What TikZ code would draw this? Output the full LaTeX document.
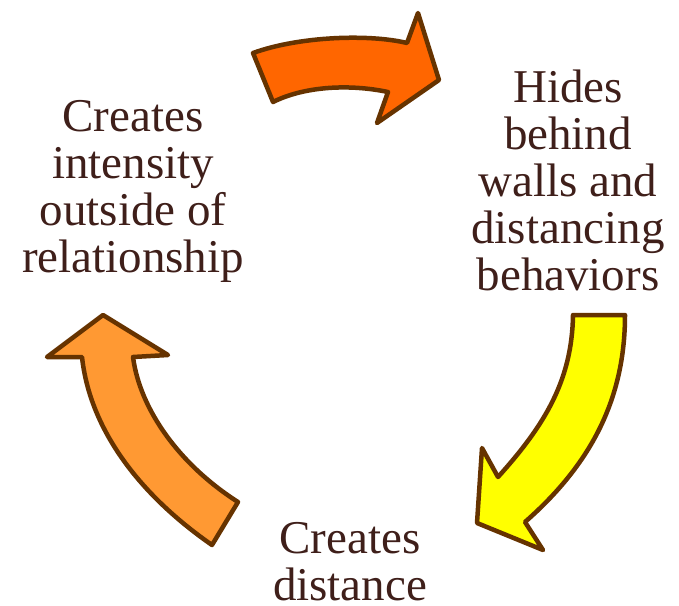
\documentclass[tikz,border=0pt]{standalone}
\usepackage{fontspec}
\setmainfont{Liberation Serif}
\definecolor{textbrown}{HTML}{3F1F1A}
\definecolor{rimbrown}{HTML}{663300}
\definecolor{redorange}{HTML}{FF6600}
\definecolor{sunyellow}{HTML}{FFFF00}
\definecolor{lightorange}{HTML}{FF9933}
\begin{document}
\begin{tikzpicture}[x=1pt,y=-1pt]

      \useasboundingbox (0,0) rectangle (679,605);

      \begin{scope}[every path/.style={draw=rimbrown, line width=4.5pt, line join=round}]
        \path[fill=redorange] (253,53) .. controls (300,36) and (370,34) .. (407,43)
          -- (418,13) -- (439,80) -- (377,123) -- (388,92)
          .. controls (350,84) and (305,86) .. (273,102) -- cycle;
        \path[fill=sunyellow] (573,315) -- (625,315)
          .. controls (625,400) and (590,465) .. (525,522)
          -- (543,550) -- (477,523) -- (482,448) -- (498,477)
          .. controls (545,425) and (572,380) .. (573,315) -- cycle;
        \path[fill=lightorange] (103,315) -- (168,355) -- (133,357)
          .. controls (140,410) and (180,465) .. (238,502)
          -- (212,545) .. controls (140,495) and (90,430) .. (82,357)
          -- (47,357) -- cycle;
      \end{scope}

      \begin{scope}[every node/.style={align=center, anchor=base, text=textbrown,
          font=\fontsize{47}{47}\selectfont, inner sep=0pt}]
        \node (intensity) at (133,272) {Creates\\intensity\\outside of\\relationship};
        \node (hides)     at (568,290) {Hides\\behind\\walls and\\distancing\\behaviors};
        \node (distance)  at (350,600) {Creates\\distance};
      \end{scope}

    \end{tikzpicture}
\end{document}
